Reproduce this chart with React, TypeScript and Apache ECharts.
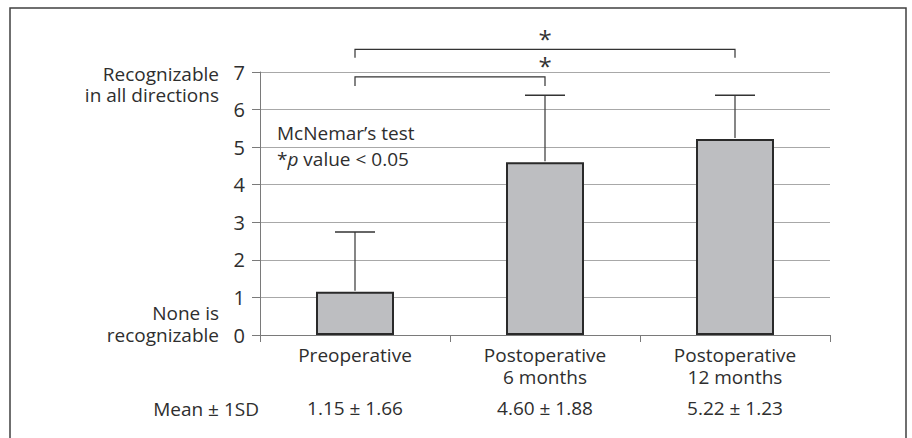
import React, { useEffect, useRef } from "react";
import * as echarts from "echarts";

const categories = ["Preoperative", "Postoperative\n6 months", "Postoperative\n12 months"];
const means = [1.15, 4.6, 5.22];
const errorTops = [2.74, 6.38, 6.38];
const statLabels = ["1.15 ± 1.66", "4.60 ± 1.88", "5.22 ± 1.23"];
// [fromCategory, toCategory, bracketLevel, endDropLevel]
const brackets = [
  [0, 1, 6.87, 6.63],
  [0, 2, 7.6, 7.38],
];
const yMin = 0;
const yMax = 7;
const yInterval = 1;

const FONT = "'Open Sans', 'DejaVu Sans', sans-serif";
const TEXT = "#2e2e2e";
const FS = 19;

export default function App() {
  const ref = useRef<HTMLDivElement>(null);
  useEffect(() => {
    if (!ref.current) return;
    const chart = echarts.init(ref.current, null, { renderer: "svg" });
    const option: any = {
      animation: false,
      textStyle: { fontFamily: FONT },
      grid: { left: 260, right: 82, top: 72, bottom: 103, containLabel: false },
      xAxis: [
        {
          type: "category",
          data: categories,
          boundaryGap: true,
          axisLine: { show: true, lineStyle: { color: "#7a7a7a", width: 1 } },
          axisTick: { show: true, length: 7, lineStyle: { color: "#7a7a7a" } },
          axisLabel: {
            fontFamily: FONT,
            fontSize: FS,
            color: TEXT,
            lineHeight: 22,
            margin: 9,
            interval: 0,
          },
          splitLine: { show: false },
        },
        {
          type: "category",
          data: statLabels,
          position: "bottom",
          offset: 0,
          boundaryGap: true,
          axisLine: { show: false },
          axisTick: { show: false },
          axisLabel: {
            fontFamily: FONT,
            fontSize: FS,
            color: TEXT,
            lineHeight: 22,
            margin: 62,
            interval: 0,
          },
          splitLine: { show: false },
        },
      ],
      yAxis: {
        type: "value",
        min: yMin,
        max: yMax,
        interval: yInterval,
        axisLine: { show: true, lineStyle: { color: "#7a7a7a", width: 1 } },
        axisTick: { show: true, length: 8, lineStyle: { color: "#7a7a7a" } },
        axisLabel: { fontFamily: FONT, fontSize: 20, color: TEXT, margin: 15 },
        splitLine: { show: true, lineStyle: { color: "#a8a8a8", width: 1 } },
      },
      series: [
        {
          type: "bar",
          data: means,
          barWidth: 78,
          itemStyle: { color: "#bdbec1", borderColor: "#2a2a2a", borderWidth: 2 },
          z: 2,
        },
        {
          type: "custom",
          data: means.map((m, i) => [i, m, errorTops[i]]),
          clip: false,
          z: 3,
          renderItem: (params: any, api: any) => {
            const p0 = api.coord([api.value(0), api.value(1)]);
            const p1 = api.coord([api.value(0), api.value(2)]);
            return {
              type: "group",
              children: [
                {
                  type: "line",
                  shape: { x1: p0[0], y1: p0[1] - 1, x2: p1[0], y2: p1[1] },
                  style: { stroke: "#444", lineWidth: 1.3 },
                },
                {
                  type: "line",
                  shape: { x1: p1[0] - 20, y1: p1[1], x2: p1[0] + 20, y2: p1[1] },
                  style: { stroke: "#333", lineWidth: 1.6 },
                },
              ],
            };
          },
        },
        {
          type: "custom",
          data: brackets,
          clip: false,
          z: 3,
          renderItem: (params: any, api: any) => {
            const a = api.coord([api.value(0), api.value(2)]);
            const b = api.coord([api.value(1), api.value(2)]);
            const d = api.coord([api.value(0), api.value(3)]);
            const mid = api.coord([(api.value(0) + api.value(1)) / 2, api.value(2)]);
            return {
              type: "group",
              children: [
                {
                  type: "polyline",
                  shape: {
                    points: [
                      [a[0], d[1]],
                      [a[0], a[1]],
                      [b[0], b[1]],
                      [b[0], d[1]],
                    ],
                  },
                  style: { stroke: "#333", lineWidth: 1.2, fill: "none" },
                },
                {
                  type: "text",
                  x: mid[0],
                  y: mid[1] - 4,
                  style: {
                    text: "*",
                    fontFamily: FONT,
                    fontSize: 24,
                    fill: "#333",
                    align: "center",
                    verticalAlign: "bottom",
                    lineHeight: 14,
                  },
                },
              ],
            };
          },
        },
      ],
      graphic: [
        {
          type: "rect",
          shape: { x: 10, y: 8, width: 896, height: 450 },
          style: { fill: "none", stroke: "#404040", lineWidth: 1.5 },
          silent: true,
        },
        {
          type: "text",
          x: 219,
          y: 63,
          style: {
            text: "Recognizable\nin all directions",
            fontFamily: FONT,
            fontSize: FS,
            lineHeight: 21,
            fill: TEXT,
            align: "right",
            verticalAlign: "top",
          },
        },
        {
          type: "text",
          x: 219,
          y: 302,
          style: {
            text: "None is\nrecognizable",
            fontFamily: FONT,
            fontSize: FS,
            lineHeight: 22,
            fill: TEXT,
            align: "right",
            verticalAlign: "top",
          },
        },
        {
          type: "text",
          x: 277,
          y: 133,
          style: {
            text: "McNemar’s test",
            fontFamily: FONT,
            fontSize: FS,
            fill: TEXT,
            align: "left",
            verticalAlign: "middle",
          },
        },
        {
          type: "text",
          x: 277,
          y: 159,
          style: {
            text: "*{i|p} value < 0.05",
            rich: { i: { fontStyle: "italic", fontFamily: FONT, fontSize: FS, fill: TEXT, lineHeight: 18 } },
            fontFamily: FONT,
            fontSize: FS,
            lineHeight: 18,
            fill: TEXT,
            align: "left",
            verticalAlign: "middle",
          },
        },
        {
          type: "text",
          x: 259,
          y: 409,
          style: { text: "Mean ± 1SD", fontFamily: FONT, fontSize: FS, fill: TEXT, align: "right", verticalAlign: "middle" },
        },
      ],
    };
    chart.setOption(option);
    return () => chart.dispose();
  }, []);
  return (
    <div
      ref={ref}
      style={{ position: "absolute", left: 0, top: 0, width: 912, height: 438, background: "#fff" }}
    />
  );
}
